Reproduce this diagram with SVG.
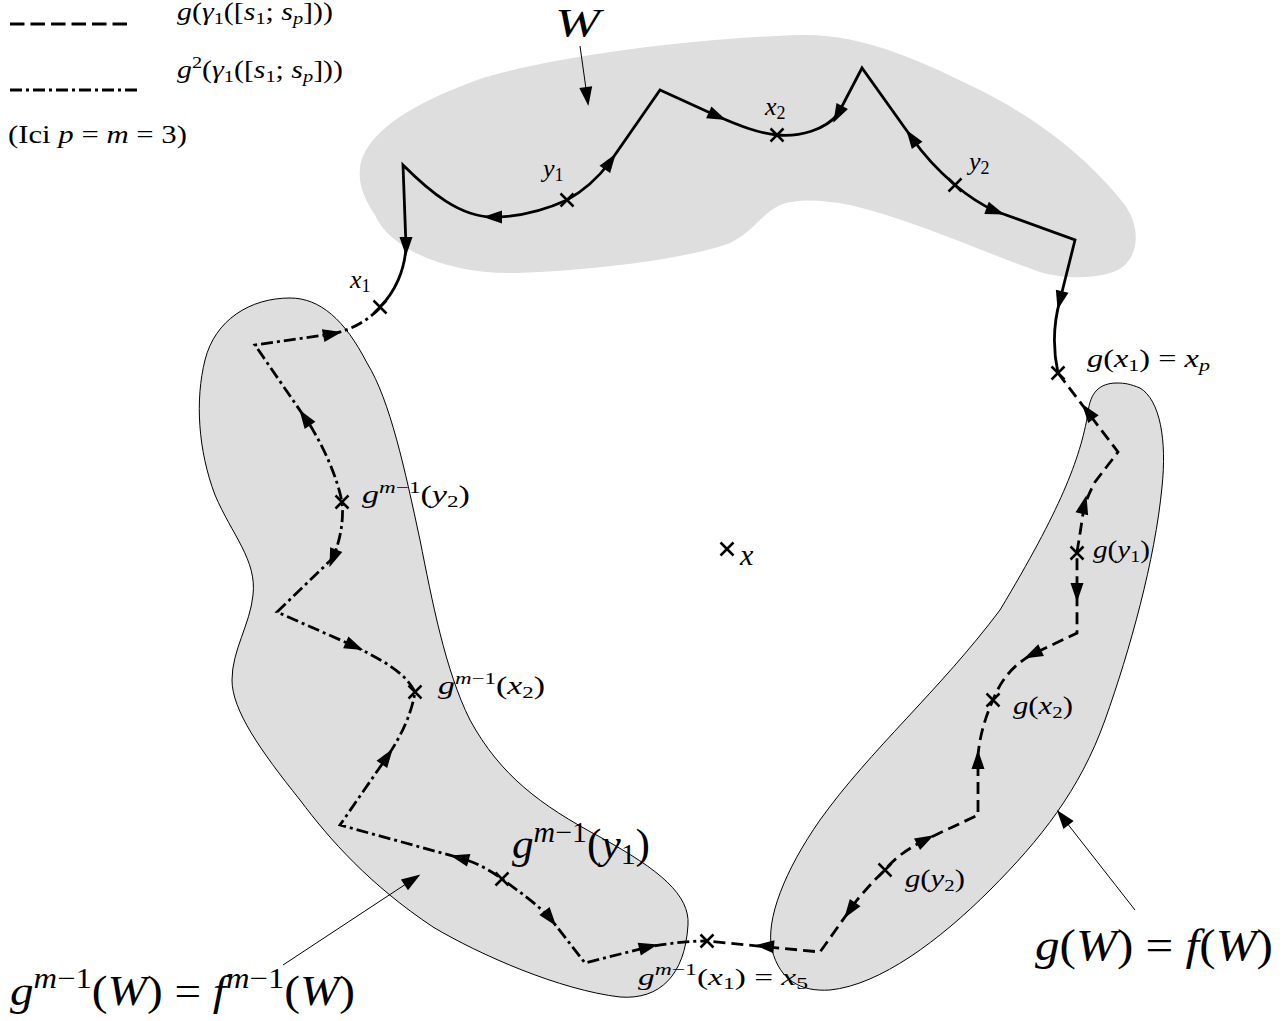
<svg xmlns="http://www.w3.org/2000/svg" xmlns:xlink="http://www.w3.org/1999/xlink" width="1287" height="1021" viewBox="0 0 1287 1021">
<style>
.t{font-family:"Liberation Serif","DejaVu Serif",serif;fill:#000}
.i{font-style:italic}
.blob{fill:#dedede}
.blobs{fill:#dedede;stroke:#000;stroke-width:1}
.p{fill:none;stroke:#000;stroke-width:2.8;stroke-linejoin:miter}
.dash{stroke-dasharray:12 6}
.dd{stroke-dasharray:12 4 3 4}
.thin{fill:none;stroke:#000;stroke-width:1}
.cx{fill:none;stroke:#000;stroke-width:2.5}
</style>
<defs>
<path id="ah" d="M 10,0 L -9,-6.5 L -9,6.5 Z" fill="#000"/>
<path id="cr" d="M -6.5,-6.5 L 6.5,6.5 M -6.5,6.5 L 6.5,-6.5"/>
</defs>
<rect width="1287" height="1021" fill="#fff"/>

<g id="legend">
<path d="M 10,24 H 127" fill="none" stroke="#000" stroke-width="3" stroke-dasharray="14.5 6"/>
<path d="M 10,90 H 137" fill="none" stroke="#000" stroke-width="3" stroke-dasharray="12 4 3 4"/>
<text class="t" x="177" y="20" font-size="25" textLength="156" lengthAdjust="spacingAndGlyphs"><tspan class="i">g</tspan>(<tspan class="i">γ</tspan><tspan font-size="17" dy="4">1</tspan><tspan dy="-4">([</tspan><tspan class="i">s</tspan><tspan font-size="17" dy="4">1</tspan><tspan dy="-4">; </tspan><tspan class="i">s</tspan><tspan class="i" font-size="17" dy="4">p</tspan><tspan dy="-4">]))</tspan></text>
<text class="t" x="177" y="78" font-size="25" textLength="166" lengthAdjust="spacingAndGlyphs"><tspan class="i">g</tspan><tspan font-size="17" dy="-10">2</tspan><tspan dy="10">(</tspan><tspan class="i">γ</tspan><tspan font-size="17" dy="4">1</tspan><tspan dy="-4">([</tspan><tspan class="i">s</tspan><tspan font-size="17" dy="4">1</tspan><tspan dy="-4">; </tspan><tspan class="i">s</tspan><tspan class="i" font-size="17" dy="4">p</tspan><tspan dy="-4">]))</tspan></text>
<text class="t" x="8" y="143" font-size="26" textLength="179" lengthAdjust="spacingAndGlyphs">(Ici <tspan class="i">p</tspan> = <tspan class="i">m</tspan> = 3)</text>
</g>

<g id="W">
<path class="blob" d="M 360,168 C 365,130 420,100 483,78 C 560,55 700,38 800,35 C 860,33 920,60 980,90 C 1040,120 1090,160 1125,205 C 1145,235 1135,265 1113,272 C 1090,280 1060,278 1040,272 C 990,255 920,222 850,205 C 820,199 795,199 780,205 C 760,215 755,230 730,243 C 690,258 600,270 517,273 C 450,275 390,250 375,215 C 365,200 358,185 360,168 Z"/>
<text class="t i" x="555" y="36" font-size="39" textLength="45" lengthAdjust="spacingAndGlyphs">W</text>
</g>

<g id="gmW">
<path class="blobs" d="M 290,298 C 250,298 215,320 205,360 C 195,400 198,450 215,495 C 232,535 257,560 253,595 C 250,625 232,650 232,680 C 232,710 260,750 300,800 C 330,840 370,885 433,927 C 480,955 560,990 620,997 C 660,1000 685,975 688,925 C 690,895 660,870 600,837 C 540,805 500,775 470,720 C 445,670 432,600 420,540 C 405,470 390,400 367,363 C 345,320 320,298 290,298 Z"/>
<text class="t" x="10" y="1005" font-size="42" textLength="345" lengthAdjust="spacingAndGlyphs"><tspan class="i">g</tspan><tspan font-size="29" dy="-17"><tspan class="i">m</tspan>−1</tspan><tspan dy="17">(</tspan><tspan class="i">W</tspan>) = <tspan class="i">f</tspan><tspan font-size="29" dy="-17"><tspan class="i">m</tspan>−1</tspan><tspan dy="17">(</tspan><tspan class="i">W</tspan>)</text>
</g>

<g id="gW">
<path class="blobs" d="M 1117,383 C 1100,383 1090,392 1088,413 C 1080,460 1060,510 1000,610 C 940,690 870,750 820,820 C 785,870 765,920 772,950 C 780,980 800,992 830,990 C 880,985 940,940 990,890 C 1040,840 1080,790 1105,720 C 1130,650 1155,560 1162,487 C 1167,440 1160,400 1140,388 C 1130,384 1125,383 1117,383 Z"/>
<text class="t" x="1035" y="960" font-size="44" textLength="238" lengthAdjust="spacingAndGlyphs"><tspan class="i">g</tspan>(<tspan class="i">W</tspan>) = <tspan class="i">f</tspan>(<tspan class="i">W</tspan>)</text>
</g>

<g id="connectors">
<path class="p" d="M 380,307 C 395,292 405,270 406,246 L 403,165 C 430,192 460,217 493,217 C 520,217 545,210 567,200 C 585,190 598,178 610,162 L 660,90 L 717,116 C 740,126 758,133 777,135 C 800,137 825,130 838,114 L 862,68 L 912,138 C 925,157 940,172 955,185 C 968,196 980,204 995,211 L 1075,240 L 1060,300 C 1053,325 1053,350 1058,373"/>
<path class="p dash" d="M 1058,373 L 1118,452 L 1095,482 C 1088,495 1084,505 1082,520 C 1080,535 1078,545 1077,553 L 1077,633 L 1033,654 C 1012,665 1000,682 993,700 C 985,718 980,735 978,755 L 978,815 L 925,840 C 905,850 893,860 885,870 C 872,882 864,892 857,900 L 820,952 L 707,941"/>
<path class="p dd" d="M 380,308 C 368,320 352,330 332,334 L 255,345 L 310,425 C 325,450 337,477 342,502 C 344,522 340,540 333,558 L 277,612 L 354,646 C 382,660 405,672 415,692 C 412,712 402,735 387,757 L 340,825 L 460,858 C 475,862 490,870 502,879 C 520,892 538,905 550,918 L 585,963 L 648,947 C 670,943 690,941 707,941"/>
<line class="thin" x1="580" y1="46" x2="587" y2="96"/>
<line class="thin" x1="1135" y1="910" x2="1063" y2="818"/>
<line class="thin" x1="283" y1="965" x2="412" y2="880"/>
<use xlink:href="#ah" transform="translate(587,96) rotate(82)"/>
<use xlink:href="#ah" transform="translate(1063,818) rotate(-128)"/>
<use xlink:href="#ah" transform="translate(412,880) rotate(-33)"/>
<use xlink:href="#ah" transform="translate(406,246) rotate(90)"/>
<use xlink:href="#ah" transform="translate(493,217) rotate(180)"/>
<use xlink:href="#ah" transform="translate(610,162) rotate(-55)"/>
<use xlink:href="#ah" transform="translate(717,116) rotate(24)"/>
<use xlink:href="#ah" transform="translate(838,114) rotate(118)"/>
<use xlink:href="#ah" transform="translate(912,138) rotate(-125)"/>
<use xlink:href="#ah" transform="translate(995,211) rotate(20)"/>
<use xlink:href="#ah" transform="translate(1060,300) rotate(104)"/>
<use xlink:href="#ah" transform="translate(1088,412) rotate(-127)"/>
<use xlink:href="#ah" transform="translate(1084,505) rotate(-76)"/>
<use xlink:href="#ah" transform="translate(1077,592) rotate(90)"/>
<use xlink:href="#ah" transform="translate(1033,654) rotate(154)"/>
<use xlink:href="#ah" transform="translate(978,760) rotate(-90)"/>
<use xlink:href="#ah" transform="translate(925,840) rotate(-28)"/>
<use xlink:href="#ah" transform="translate(850,910) rotate(125)"/>
<use xlink:href="#ah" transform="translate(765,946) rotate(185)"/>
<use xlink:href="#ah" transform="translate(332,334) rotate(-11)"/>
<use xlink:href="#ah" transform="translate(305,418) rotate(-124)"/>
<use xlink:href="#ah" transform="translate(333,558) rotate(111)"/>
<use xlink:href="#ah" transform="translate(354,646) rotate(24)"/>
<use xlink:href="#ah" transform="translate(387,757) rotate(-55)"/>
<use xlink:href="#ah" transform="translate(460,858) rotate(195)"/>
<use xlink:href="#ah" transform="translate(550,918) rotate(52)"/>
<use xlink:href="#ah" transform="translate(648,947) rotate(-14)"/>
</g>

<g id="points" class="cx">
<use xlink:href="#cr" transform="translate(380,307)"/>
<use xlink:href="#cr" transform="translate(567,200)"/>
<use xlink:href="#cr" transform="translate(777,135)"/>
<use xlink:href="#cr" transform="translate(955,185)"/>
<use xlink:href="#cr" transform="translate(1058,373)"/>
<use xlink:href="#cr" transform="translate(1077,553)"/>
<use xlink:href="#cr" transform="translate(993,700)"/>
<use xlink:href="#cr" transform="translate(885,870)"/>
<use xlink:href="#cr" transform="translate(707,941)"/>
<use xlink:href="#cr" transform="translate(342,502)"/>
<use xlink:href="#cr" transform="translate(415,692)"/>
<use xlink:href="#cr" transform="translate(502,879)"/>
<use xlink:href="#cr" transform="translate(727,549)"/>
</g>

<g id="labels">
<text class="t" x="350" y="288" font-size="26"><tspan class="i">x</tspan><tspan font-size="18" dy="4">1</tspan></text>
<text class="t" x="543" y="177" font-size="26"><tspan class="i">y</tspan><tspan font-size="18" dy="4">1</tspan></text>
<text class="t" x="765" y="115" font-size="26"><tspan class="i">x</tspan><tspan font-size="18" dy="4">2</tspan></text>
<text class="t" x="969" y="170" font-size="26"><tspan class="i">y</tspan><tspan font-size="18" dy="4">2</tspan></text>
<text class="t" x="1087" y="367" font-size="25" textLength="123" lengthAdjust="spacingAndGlyphs"><tspan class="i">g</tspan>(<tspan class="i">x</tspan><tspan font-size="17" dy="4">1</tspan><tspan dy="-4">) = </tspan><tspan class="i">x</tspan><tspan class="i" font-size="17" dy="4">p</tspan></text>
<text class="t" x="1093" y="558" font-size="25" textLength="57" lengthAdjust="spacingAndGlyphs"><tspan class="i">g</tspan>(<tspan class="i">y</tspan><tspan font-size="17" dy="4">1</tspan><tspan dy="-4">)</tspan></text>
<text class="t" x="1013" y="714" font-size="25" textLength="60" lengthAdjust="spacingAndGlyphs"><tspan class="i">g</tspan>(<tspan class="i">x</tspan><tspan font-size="17" dy="4">2</tspan><tspan dy="-4">)</tspan></text>
<text class="t" x="905" y="887" font-size="25" textLength="60" lengthAdjust="spacingAndGlyphs"><tspan class="i">g</tspan>(<tspan class="i">y</tspan><tspan font-size="17" dy="4">2</tspan><tspan dy="-4">)</tspan></text>
<text class="t i" x="740" y="565" font-size="30">x</text>
<text class="t" x="362" y="503" font-size="25" textLength="108" lengthAdjust="spacingAndGlyphs"><tspan class="i">g</tspan><tspan font-size="17" dy="-10"><tspan class="i">m</tspan>−1</tspan><tspan dy="10">(</tspan><tspan class="i">y</tspan><tspan font-size="17" dy="4">2</tspan><tspan dy="-4">)</tspan></text>
<text class="t" x="438" y="694" font-size="25" textLength="107" lengthAdjust="spacingAndGlyphs"><tspan class="i">g</tspan><tspan font-size="17" dy="-10"><tspan class="i">m</tspan>−1</tspan><tspan dy="10">(</tspan><tspan class="i">x</tspan><tspan font-size="17" dy="4">2</tspan><tspan dy="-4">)</tspan></text>
<text class="t" x="512" y="858" font-size="42" textLength="138" lengthAdjust="spacingAndGlyphs"><tspan class="i">g</tspan><tspan font-size="29" dy="-16"><tspan class="i">m</tspan>−1</tspan><tspan dy="16">(</tspan><tspan class="i">y</tspan><tspan font-size="29" dy="6">1</tspan><tspan dy="-6">)</tspan></text>
<text class="t" x="638" y="985" font-size="24" textLength="170" lengthAdjust="spacingAndGlyphs"><tspan class="i">g</tspan><tspan font-size="17" dy="-10"><tspan class="i">m</tspan>−1</tspan><tspan dy="10">(</tspan><tspan class="i">x</tspan><tspan font-size="17" dy="4">1</tspan><tspan dy="-4">) = </tspan><tspan class="i">x</tspan><tspan font-size="17" dy="4">5</tspan></text>
</g>
</svg>
